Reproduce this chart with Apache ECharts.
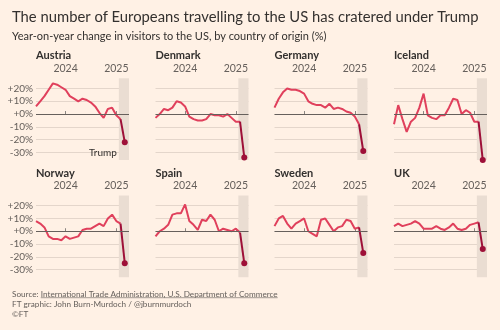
<!DOCTYPE html>
<html><head><meta charset="utf-8">
<script src="https://cdn.jsdelivr.net/npm/echarts@6/dist/echarts.min.js"></script>
<style>html,body{margin:0;padding:0;background:#fff1e5}#c{width:500px;height:330px}</style>
</head><body><div id="c"></div><script>
// ---- data ----
const months = ['2023-06','2023-07','2023-08','2023-09','2023-10','2023-11','2023-12',
  '2024-01','2024-02','2024-03','2024-04','2024-05','2024-06','2024-07','2024-08','2024-09','2024-10','2024-11','2024-12',
  '2025-01','2025-02','2025-03','2025-04'];
const countries = ['Austria','Denmark','Germany','Iceland','Norway','Spain','Sweden','UK'];
const austria = [6,10,14,19,24,23,21,19,14,12,10,12,11,9,6,1,-3,4,5,-1,-4,-22];
const denmark = [-3,0,4,3,5,10,9,6,-2,-4,-5,-5,-4,0,-1,-1,-2,0,-3,-6,-6,-34];
const germany = [5,12,17,20,19,19,18,16,10,8,7,7,5,8,4,5,4,2,1,-2,-8,-29];
const iceland = [-8,7,-4,-14,-6,-3,5,16,-1,-3,-4,-1,-1,5,12,11,0,3,1,-6,-6,-36];
const norway = [8,6,3,-4,-6,-6,-7,-4,-6,-5,-4,1,2,2,4,6,4,10,13,8,6,-25];
const spain = [-4,0,2,5,13,14,14,21,8,5,1,9,8,13,9,0,2,1,0,2,-1,-25];
const sweden = [4,10,12,6,2,6,8,10,0,-2,-4,9,10,5,0,3,4,9,8,2,3,-17];
const uk = [4,6,4,5,6,8,6,2,2,2,4,2,1,3,6,2,1,2,5,6,7,-14];
const seriesValues = [austria, denmark, germany, iceland, norway, spain, sweden, uk];
const yMin = -36, yMax = 28;
const trumpStart = 19.6;   // month index (late Jan 2025)
const trumpLabel = 'Trump';
const titleText = 'The number of Europeans travelling to the US has cratered under Trump';
const subtitleText = 'Year-on-year change in visitors to the US, by country of origin (%)';
const sourcePrefix = 'Source: ';
const sourceLink = 'International Trade Administration, U.S. Department of Commerce';
const creditText = 'FT graphic: John Burn-Murdoch / @jburnmurdoch';
const copyrightText = '©FT';

// ---- styles ----
const FONT = 'Lato, "Open Sans", sans-serif';
const RED = '#e0405c', DARK = '#9e1038', SHADE = '#eaddd2', GRID = '#e4d6cb', ZERO = '#66605c', TXT = '#33302e', GREY = '#66605c';
const colLeft = [36, 155.5, 274.5, 394];
const rowTop = [78.3, 195.5];
const W = 93, H = 81.7;
const FOOT = 8.2;

const grid = [], xAxis = [], yAxis = [], series = [], title = [];
countries.forEach((name, i) => {
  const r = Math.floor(i / 4), c = i % 4;
  grid.push({left: colLeft[c], top: rowTop[r], width: W, height: H});
  title.push({text: name, left: colLeft[c], top: rowTop[r] - 28, padding: 0,
    textStyle: {fontFamily: FONT, fontSize: 11, fontWeight: 'bold', color: TXT}});
  const isJan = (idx, v) => v.slice(5) === '01';
  xAxis.push({type: 'category', gridIndex: i, data: months, boundaryGap: false, position: 'top',
    axisLine: {show: false},
    axisTick: {show: true, interval: isJan, length: 3, lineStyle: {color: '#8a8580'}},
    axisLabel: {interval: isJan, formatter: v => v.slice(0, 4), margin: 4, fontFamily: FONT, fontSize: 10.5, color: GREY},
    splitLine: {show: false}});
  xAxis.push({type: 'value', gridIndex: i, min: 0, max: months.length - 1, show: false});
  yAxis.push({type: 'value', gridIndex: i, min: yMin, max: yMax,
    axisLine: {show: false}, axisTick: {show: false},
    axisLabel: {show: c === 0, showMinLabel: false, showMaxLabel: false, margin: 3,
      formatter: v => (v >= 0 ? '+' : '') + v + '%', fontFamily: FONT, fontSize: 10, color: GREY},
    splitLine: {show: true, showMinLine: false, showMaxLine: false, lineStyle: {color: GRID, width: 1}}});
  const vals = seriesValues[i];
  const n = vals.length;
  // shading
  series.push({type: 'line', xAxisIndex: 2 * i + 1, yAxisIndex: i, data: [], silent: true,
    markArea: {silent: true, itemStyle: {color: SHADE},
      label: {show: i === 0, position: [-2, '91%'], align: 'right', verticalAlign: 'middle',
        fontFamily: FONT, fontSize: 10, color: TXT},
      data: [[{name: trumpLabel, xAxis: trumpStart}, {xAxis: months.length - 1}]]}});
  // main line
  series.push({type: 'line', xAxisIndex: 2 * i, yAxisIndex: i, data: vals.slice(0, n - 1),
    symbol: 'none', lineStyle: {color: RED, width: 2}, itemStyle: {color: RED}, silent: true,
    markLine: {silent: true, symbol: 'none', label: {show: false},
      lineStyle: {color: ZERO, type: 'solid', width: 1}, data: [{yAxis: 0}]}, z: 3});
  // Trump-period segment
  series.push({type: 'line', xAxisIndex: 2 * i, yAxisIndex: i, showAllSymbol: true,
    data: vals.map((v, k) => k < n - 2 ? null : (k === n - 1 ? {value: v, symbol: 'circle', symbolSize: 6} : {value: v, symbol: 'none'})),
    lineStyle: {color: DARK, width: 2}, itemStyle: {color: DARK}, silent: true, z: 4});
});

const footLeft = 12;
const footTop = 290;
const footStyle = t => ({text: t, fontSize: FOOT, fontFamily: FONT, fill: GREY});

const chart = echarts.init(document.getElementById('c'), null, {renderer: 'canvas'});
chart.setOption({
  backgroundColor: '#fff1e5',
  animation: false,
  title: [
    {text: titleText, left: 12, top: 9.5, padding: 0,
      textStyle: {fontFamily: FONT, fontSize: 14.8, fontWeight: 'normal', color: TXT}},
    {text: subtitleText, left: 12, top: 30.5, padding: 0,
      textStyle: {fontFamily: FONT, fontSize: 11, fontWeight: 'normal', color: TXT}},
    ...title,
    {text: creditText, left: footLeft, top: footTop + 10, padding: 0,
      textStyle: {fontFamily: FONT, fontSize: FOOT, fontWeight: 'normal', color: GREY}},
    {text: copyrightText, left: footLeft, top: footTop + 20, padding: 0,
      textStyle: {fontFamily: FONT, fontSize: FOOT, fontWeight: 'normal', color: GREY}}
  ],
  graphic: [{type: 'text', id: 'srcPrefix', left: footLeft, top: footTop, silent: true, style: footStyle(sourcePrefix)}],
  grid, xAxis, yAxis, series
});
// place link text right after the prefix using the rendered prefix width, then underline it
const findText = s => chart.getZr().storage.getDisplayList().find(el => el.style && el.style.text === s);
const prefEl = findText(sourcePrefix);
const prefW = prefEl ? prefEl.getBoundingRect().width : 28;
const linkX = footLeft + prefW;
chart.setOption({graphic: [
  {id: 'srcPrefix'},
  {type: 'text', id: 'srcLink', left: linkX, top: footTop, silent: true, style: footStyle(sourceLink)}
]});
const linkEl = findText(sourceLink);
const linkRect = linkEl ? linkEl.getBoundingRect() : {width: 250, height: 10};
const ulY = footTop + linkRect.height - 0.3;
chart.setOption({graphic: [
  {id: 'srcPrefix'}, {id: 'srcLink'},
  {type: 'line', id: 'srcLine', silent: true,
    shape: {x1: linkX, y1: ulY, x2: linkX + linkRect.width, y2: ulY},
    style: {stroke: GREY, lineWidth: 0.6}}
]});
</script></body></html>
